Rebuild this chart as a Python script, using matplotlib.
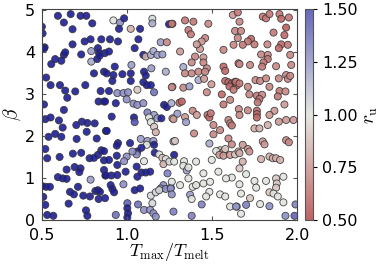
import numpy as np
import matplotlib
matplotlib.use("Agg")
import matplotlib.pyplot as plt
from matplotlib.colors import LinearSegmentedColormap

plt.rcParams['mathtext.fontset'] = 'cm'

# T_max / T_melt, beta, r_u  (left to right)
tmax_ratio = [
    0.594, 0.669, 0.727, 0.761, 0.629, 0.796, 0.500, 0.680, 0.504, 0.751, 0.786, 0.849, 0.680, 0.516, 0.512,
    0.629, 0.637, 0.731, 0.790, 0.790, 0.829, 0.835, 0.869, 0.578, 0.825, 0.839, 0.555, 0.614, 0.865, 0.806,
    0.525, 0.551, 0.606, 0.637, 0.696, 0.649, 0.755, 0.845, 0.833, 0.865, 0.512, 0.629, 0.520, 0.551, 0.600,
    0.735, 0.767, 0.810, 0.622, 0.702, 0.763, 0.876, 0.578, 0.539, 0.614, 0.704, 0.822, 0.520, 0.731, 0.849,
    0.829, 0.682, 0.604, 0.531, 0.780, 0.806, 0.865, 0.645, 0.692, 0.727, 0.720, 0.873, 0.594, 0.622, 0.645,
    0.786, 0.500, 0.524, 0.547, 0.712, 0.508, 0.665, 0.688, 0.743, 0.782, 0.814, 0.829, 0.841, 0.833, 0.520,
    0.657, 0.759, 0.531, 0.567, 0.767,
    0.920, 0.959, 0.983, 0.953, 1.022, 1.077, 1.149, 1.149, 1.247, 1.267, 0.900, 0.947, 1.067, 1.198, 1.234,
    1.045, 1.096, 1.110, 1.140, 1.155, 1.179, 1.208, 0.894, 0.928, 1.026, 1.143, 1.228, 0.881, 0.920, 0.973,
    1.022, 1.100, 1.110, 0.914, 1.022, 1.096, 1.116, 1.140, 1.159, 1.267, 0.894, 0.943, 0.979, 1.006, 1.061,
    0.998, 0.934, 1.038, 1.061, 1.096, 1.218, 1.234, 0.871, 1.120, 1.159, 0.910, 1.041, 1.045, 1.130, 1.179,
    1.202, 1.140, 1.159, 1.169, 1.267, 0.881, 1.273, 0.947, 1.081, 1.120, 1.155, 0.940, 1.018, 1.116, 1.159,
    0.865, 1.061, 1.085, 1.057, 1.163, 0.940, 0.998, 1.032, 1.100, 1.189, 1.208, 1.228, 1.214, 0.894, 0.983,
    1.249, 0.865, 0.943, 1.057, 0.992, 1.085, 1.110, 1.136, 0.908, 0.943, 1.061, 1.238, 0.875, 0.904, 0.979,
    0.914, 0.924, 1.045, 1.077, 1.214, 1.198, 1.228, 1.257, 1.140, 1.169, 1.189, 0.871, 1.002, 1.065, 1.100,
    1.136, 1.155, 1.169, 1.002, 1.006, 1.002, 0.934, 1.149,
    1.263, 1.341, 1.390, 1.478, 1.622, 1.361, 1.375, 1.635, 1.459, 1.439, 1.429, 1.410, 1.312, 1.400, 1.449,
    1.567, 1.626, 1.655, 1.380, 1.331, 1.449, 1.469, 1.341, 1.380, 1.420, 1.459, 1.567, 1.577, 1.420, 1.453,
    1.496, 1.577, 1.596, 1.616, 1.635, 1.602, 1.645, 1.626, 1.263, 1.331, 1.367, 1.469, 1.557, 1.606, 1.567,
    1.261, 1.308, 1.322, 1.386, 1.296, 1.410, 1.473, 1.484, 1.492, 1.341, 1.347, 1.273, 1.596, 1.606, 1.508,
    1.547, 1.616, 1.508, 1.394, 1.596, 1.616, 1.282, 1.484, 1.547, 1.567, 1.577, 1.524, 1.543, 1.567, 1.606,
    1.635, 1.655, 1.277, 1.277, 1.335, 1.406, 1.498, 1.331, 1.351, 1.361, 1.449, 1.537, 1.616, 1.582, 1.263,
    1.361, 1.312, 1.386, 1.406, 1.449, 1.488, 1.484, 1.465, 1.547, 1.577, 1.257, 1.263, 1.371, 1.380, 1.439,
    1.273, 1.380, 1.606, 1.645,
    1.651, 1.661, 1.798, 1.817, 1.837, 1.896, 1.906, 1.951, 1.935, 1.925, 1.861, 1.670, 1.651, 1.729, 1.710,
    1.680, 1.749, 1.825, 1.906, 1.892, 1.945, 1.788, 1.827, 1.827, 1.802, 1.794, 1.959, 1.661, 1.723, 1.876,
    1.965, 1.641, 1.661, 1.755, 1.782, 1.817, 1.892, 1.935, 1.945, 1.959, 1.837, 1.896, 1.931, 1.710, 1.719,
    1.763, 1.794, 1.778, 1.768, 1.886, 1.657, 1.925, 1.866, 1.837, 1.763, 1.763, 1.763, 1.661, 1.710, 1.892,
    1.935, 1.978, 1.749, 1.778, 1.827, 1.798, 1.808, 1.935, 1.951, 1.680, 1.710, 1.719, 1.661, 1.837, 1.857,
    1.876, 1.900, 1.788, 1.680, 1.661, 1.700, 1.876, 1.880, 1.919, 1.749, 1.817, 1.661, 1.876, 1.670, 1.759,
    1.837, 1.861, 1.886, 1.723, 1.700, 1.782, 1.837, 1.919, 1.990, 1.931, 1.984, 1.670, 1.641,
]
beta = [
    4.86, 4.90, 4.86, 4.86, 4.70, 4.68, 4.60, 4.54, 4.44, 4.25, 4.30, 4.30, 4.18, 4.11, 4.08,
    3.93, 3.99, 3.94, 4.02, 3.77, 4.09, 3.98, 3.97, 3.83, 3.83, 3.91, 3.71, 3.79, 3.53, 3.49,
    3.39, 3.21, 3.21, 3.08, 3.06, 2.91, 3.21, 3.07, 2.82, 2.82, 2.75, 2.62, 2.40, 2.44, 2.37,
    2.34, 2.31, 2.30, 2.20, 2.26, 2.10, 2.12, 2.05, 1.98, 1.98, 1.93, 1.94, 1.69, 1.60, 1.66,
    1.55, 1.58, 1.50, 1.47, 1.47, 1.48, 1.42, 1.20, 1.26, 1.23, 1.14, 1.06, 1.02, 0.99, 0.98,
    0.96, 0.81, 0.79, 0.79, 0.79, 0.55, 0.67, 0.61, 0.58, 0.56, 0.69, 0.71, 0.67, 0.50, 0.36,
    0.39, 0.23, 0.12, 0.10, 0.10,
    4.75, 4.70, 4.80, 4.55, 4.55, 4.55, 4.79, 4.68, 4.66, 4.67, 4.30, 4.25, 4.30, 4.23, 4.23,
    4.09, 3.93, 3.89, 3.93, 4.02, 3.93, 3.94, 4.01, 3.65, 3.69, 3.61, 3.53, 3.49, 3.45, 3.47,
    3.49, 3.53, 3.44, 3.31, 3.31, 3.28, 3.21, 3.21, 3.04, 3.17, 3.07, 3.02, 3.02, 3.04, 3.10,
    2.87, 2.78, 2.77, 2.74, 2.78, 2.74, 2.69, 2.82, 2.56, 2.50, 2.46, 2.44, 2.33, 2.44, 2.42,
    2.42, 2.33, 2.22, 2.09, 2.42, 2.12, 1.87, 1.83, 1.93, 1.88, 1.88, 1.77, 1.83, 1.79, 1.79,
    1.64, 1.63, 1.72, 1.56, 1.60, 1.53, 1.51, 1.63, 1.40, 1.56, 1.48, 1.45, 1.33, 1.43, 1.40,
    1.39, 1.19, 1.31, 1.27, 1.15, 1.13, 1.13, 1.15, 1.06, 1.07, 1.03, 1.11, 1.06, 0.83, 0.85,
    0.74, 0.66, 0.71, 0.75, 0.83, 0.75, 0.74, 0.77, 0.58, 0.66, 0.71, 0.52, 0.40, 0.37, 0.24,
    0.24, 0.16, 0.08, 0.28, 0.16, 0.06, 0.12, 0.40,
    4.67, 4.75, 4.72, 4.67, 4.88, 4.52, 4.42, 4.50, 4.33, 4.25, 4.07, 4.18, 4.01, 3.89, 3.87,
    4.05, 4.17, 3.73, 3.75, 3.64, 3.75, 3.61, 3.49, 3.49, 3.53, 3.53, 3.65, 3.55, 3.33, 3.36,
    3.23, 3.31, 3.28, 3.25, 3.29, 3.18, 3.20, 3.10, 3.16, 3.15, 3.18, 3.04, 2.99, 2.86, 2.75,
    2.78, 2.79, 2.82, 2.60, 2.53, 2.50, 2.50, 2.44, 2.54, 2.45, 2.33, 2.40, 2.38, 2.30, 2.26,
    2.14, 2.25, 2.04, 2.06, 1.94, 1.80, 1.88, 1.82, 1.66, 1.63, 1.69, 1.64, 1.55, 1.53, 1.55,
    1.56, 1.63, 1.55, 1.39, 1.40, 1.39, 1.43, 1.29, 1.18, 1.25, 1.11, 1.15, 1.01, 0.99, 0.91,
    0.99, 0.83, 0.79, 0.83, 0.87, 0.91, 0.67, 0.56, 0.61, 0.56, 0.75, 0.61, 0.60, 0.50, 0.37,
    0.20, 0.10, 0.32, 0.32,
    4.94, 4.72, 4.84, 4.80, 4.90, 4.90, 4.79, 4.82, 4.58, 4.40, 4.46, 4.50, 4.33, 4.31, 4.25,
    4.17, 4.18, 4.18, 4.18, 4.09, 4.17, 3.94, 3.93, 3.83, 3.75, 3.65, 3.93, 3.71, 3.69, 3.66,
    3.69, 3.29, 3.25, 3.33, 3.31, 3.37, 3.37, 3.45, 3.36, 3.43, 3.17, 3.07, 3.06, 3.17, 2.99,
    2.96, 2.98, 2.88, 2.80, 2.94, 2.64, 2.75, 2.60, 2.50, 2.60, 2.52, 2.44, 2.50, 2.61, 2.34,
    2.38, 2.38, 2.18, 2.18, 2.26, 1.87, 1.80, 1.90, 1.85, 1.79, 1.69, 1.63, 1.59, 1.51, 1.47,
    1.47, 1.43, 1.45, 1.39, 1.23, 1.09, 0.99, 0.87, 1.03, 0.93, 0.93, 0.85, 0.77, 0.63, 0.77,
    0.66, 0.63, 0.56, 0.52, 0.36, 0.38, 0.33, 0.42, 0.37, 0.10, 0.10, 0.15, 0.32,
]
r_u = [
    1.6, 1.6, 1.6, 1.6, 1.6, 1.6, 1.6, 1.6, 1.6, 1.6, 1.6, 1.6, 1.6, 1.6, 1.6,
    1.6, 1.6, 1.6, 1.25, 1.2, 1.6, 1.6, 1.6, 1.6, 1.6, 1.6, 1.6, 1.6, 1.6, 1.6,
    1.6, 1.6, 1.6, 1.6, 1.6, 1.6, 1.6, 1.6, 1.6, 1.6, 1.6, 1.6, 1.6, 1.6, 1.6,
    1.6, 1.6, 1.6, 1.6, 1.6, 1.6, 1.6, 1.6, 1.6, 1.6, 1.6, 1.6, 1.6, 1.6, 1.6,
    1.6, 1.6, 1.6, 1.6, 1.6, 1.6, 1.6, 1.6, 1.6, 1.6, 1.6, 1.6, 1.6, 1.6, 1.6,
    1.25, 1.6, 1.6, 1.6, 1.6, 1.6, 1.6, 1.6, 1.6, 1.6, 1.6, 1.6, 1.6, 1.6, 1.6,
    1.6, 1.6, 1.6, 1.6, 1.6,
    1.0, 1.3, 1.6, 1.6, 0.82, 1.6, 1.05, 1.2, 1.55, 0.63, 1.6, 1.6, 1.6, 1.25, 0.68,
    1.6, 1.55, 0.82, 1.2, 1.2, 1.25, 1.25, 1.6, 1.6, 1.25, 1.25, 1.2, 1.6, 1.6, 1.6,
    1.6, 1.6, 1.6, 1.6, 1.6, 1.6, 1.6, 1.6, 1.4, 0.82, 1.6, 1.3, 1.3, 1.3, 0.9,
    1.3, 1.6, 1.3, 1.3, 1.3, 1.6, 1.6, 1.6, 1.35, 1.25, 1.6, 1.6, 1.5, 1.0, 1.25,
    1.6, 1.0, 0.9, 0.82, 0.82, 1.6, 1.2, 1.6, 1.25, 1.25, 1.25, 1.6, 1.6, 1.0, 1.6,
    1.6, 1.6, 1.6, 1.3, 1.6, 1.6, 1.3, 1.3, 1.0, 1.0, 0.9, 1.0, 0.82, 1.6, 1.3,
    1.05, 1.6, 1.6, 1.6, 1.6, 1.6, 1.6, 1.6, 1.6, 1.6, 1.6, 1.35, 1.6, 1.6, 1.3,
    1.6, 1.6, 1.6, 1.6, 1.3, 1.3, 1.3, 1.3, 1.05, 1.05, 1.05, 1.6, 1.45, 1.4, 1.3,
    1.3, 1.3, 1.3, 1.6, 1.6, 1.6, 1.4, 1.05,
    0.63, 0.63, 0.63, 0.68, 0.74, 0.63, 0.63, 0.68, 0.68, 0.74, 0.74, 0.74, 0.74, 0.68, 0.74,
    0.68, 0.68, 0.63, 0.68, 1.2, 0.68, 0.68, 0.68, 0.68, 0.68, 0.68, 0.58, 0.58, 1.2, 0.74,
    0.74, 0.58, 0.58, 0.58, 0.58, 0.58, 0.58, 0.63, 0.68, 0.68, 1.25, 0.68, 0.58, 0.68, 0.63,
    1.2, 0.58, 0.58, 0.68, 1.25, 0.74, 0.63, 0.58, 0.63, 0.74, 1.25, 0.74, 0.68, 0.68, 0.68,
    0.68, 0.63, 0.68, 0.68, 0.68, 0.68, 0.9, 1.2, 0.9, 0.82, 0.9, 1.0, 0.74, 0.74, 0.74,
    0.9, 0.82, 1.55, 1.0, 1.0, 1.0, 1.0, 1.0, 1.25, 1.0, 1.0, 1.0, 1.0, 1.0, 1.0,
    1.0, 1.0, 1.0, 1.0, 1.0, 1.0, 1.0, 1.0, 1.0, 1.0, 1.3, 1.3, 1.25, 1.0, 1.35,
    1.35, 1.35, 1.0, 1.0,
    0.63, 0.68, 0.63, 0.63, 0.63, 0.63, 0.58, 0.63, 0.54, 0.58, 0.63, 0.68, 0.68, 0.58, 0.63,
    0.63, 0.63, 0.68, 0.58, 0.58, 0.63, 0.68, 0.68, 0.63, 0.63, 0.63, 0.68, 0.68, 0.68, 0.68,
    0.68, 0.63, 0.63, 0.68, 0.68, 0.68, 0.68, 0.68, 0.68, 0.68, 0.68, 0.63, 0.68, 0.68, 0.68,
    0.63, 0.68, 0.63, 0.63, 0.63, 0.68, 0.74, 0.74, 0.74, 0.58, 0.58, 0.58, 0.68, 0.68, 0.74,
    0.74, 0.74, 0.82, 0.82, 0.82, 0.74, 0.74, 0.68, 0.68, 0.74, 0.74, 0.74, 0.82, 0.82, 0.82,
    0.82, 0.82, 0.82, 0.82, 0.9, 1.0, 0.9, 0.9, 1.0, 1.0, 1.0, 1.0, 0.9, 1.0, 1.0,
    0.9, 1.0, 1.0, 0.9, 1.35, 1.0, 1.3, 1.0, 1.35, 1.3, 1.45, 1.0, 1.3,
]

cmap = LinearSegmentedColormap.from_list(
    'ru', ['#b85252', '#e2e5de', '#5656b6'])
cmap.set_over('#1e1e96')

fig = plt.figure(figsize=(3.81, 2.67), dpi=100)
ax = fig.add_axes([0.110, 0.176, 0.670, 0.790])
cax = fig.add_axes([0.801, 0.176, 0.021, 0.790])

sc = ax.scatter(tmax_ratio, beta, c=r_u, cmap=cmap, vmin=0.5, vmax=1.5,
                s=26, edgecolors='#333333', linewidths=0.6, alpha=0.9)

ax.set_xlim(0.5, 2.0)
ax.set_ylim(0, 5.02)
ax.set_xticks([0.5, 1.0, 1.5, 2.0])
ax.set_yticks([0, 1, 2, 3, 4, 5])
ax.tick_params(direction='in', top=True, right=True, labelsize=11.5, length=3,
               color='#555555')
ax.tick_params(axis='x', pad=6)
ax.tick_params(axis='y', pad=5)
for sp in ax.spines.values():
    sp.set_color('#444444')
ax.set_xlabel(r'$T_{\rm max}/T_{\rm melt}$', fontsize=13, labelpad=-2)
ax.set_ylabel(r'$\beta$', fontsize=14, labelpad=1)

cb = fig.colorbar(sc, cax=cax, ticks=[0.5, 0.75, 1.0, 1.25, 1.5], format='%.2f')
cb.outline.set_edgecolor('#555555')
cb.ax.tick_params(labelsize=11.5, length=3)
cb.set_label(r'$r_{\rm u}$', fontsize=14, labelpad=2)

fig.savefig('out.png', dpi=100)
